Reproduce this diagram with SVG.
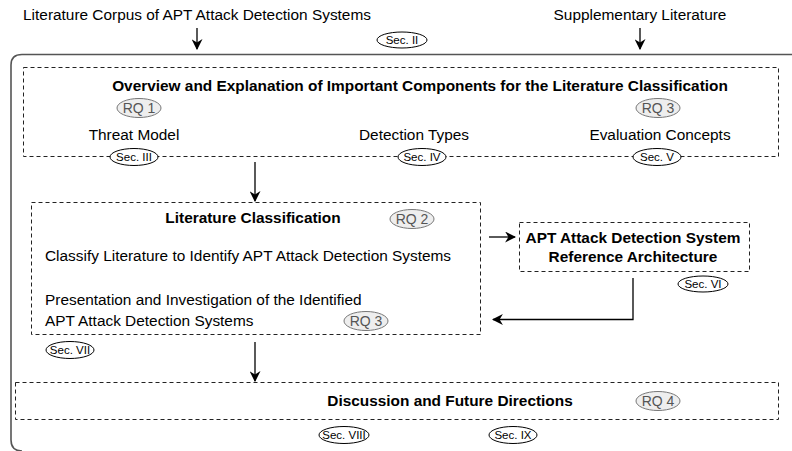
<svg xmlns="http://www.w3.org/2000/svg" width="792" height="451" viewBox="0 0 792 451">
<defs>
<marker id="ah" viewBox="0 0 10 10" refX="9" refY="5" markerWidth="11" markerHeight="11" markerUnits="userSpaceOnUse" orient="auto">
<path d="M0,0 L10,5 L0,10 L3,5 Z" fill="#000"/>
</marker>
</defs>
<style>
text{font-family:"Liberation Sans",Arial,sans-serif;fill:#000}
.t{font-size:15.4px}
.b{font-size:15.4px;font-weight:bold}
.s{font-size:11.5px}
.rq{font-size:14px;fill:#555}
.box{fill:none;stroke:#222;stroke-width:1;stroke-dasharray:4,3}
.sec{fill:#fff;stroke:#000;stroke-width:1}
.rqe{fill:#eee;stroke:#777;stroke-width:1}
.c{fill:none;stroke:#000;stroke-width:1.3}
</style>
<rect width="792" height="451" fill="#fff"/>
<path d="M792,54.5 H22 Q11,54.5 11,65 V440 Q11,451 22,451" fill="none" stroke="#555" stroke-width="1.6"/>
<g id="connectors">
<line class="c" x1="197" y1="28" x2="197" y2="49" marker-end="url(#ah)"/>
<line class="c" x1="640" y1="28" x2="640" y2="49" marker-end="url(#ah)"/>
<line class="c" x1="255" y1="162" x2="255" y2="201" marker-end="url(#ah)"/>
<line class="c" x1="489" y1="237" x2="515" y2="237" marker-end="url(#ah)"/>
<path class="c" d="M633,278 V319.5 H493" marker-end="url(#ah)"/>
<line class="c" x1="255" y1="342" x2="255" y2="381" marker-end="url(#ah)"/>
</g>
<g id="sources">
<text class="t" x="197" y="20" text-anchor="middle">Literature Corpus of APT Attack Detection Systems</text>
<text class="t" x="640" y="20" text-anchor="middle">Supplementary Literature</text>
<g id="sec2"><ellipse class="sec" cx="402" cy="40" rx="25" ry="8"/><text class="s" x="402" y="44" text-anchor="middle">Sec. II</text></g>
</g>
<g id="overview">
<rect class="box" x="23.5" y="67.5" width="755" height="89"/>
<text class="b" x="420" y="91" text-anchor="middle">Overview and Explanation of Important Components for the Literature Classification</text>
<ellipse class="rqe" cx="139" cy="108" rx="22" ry="9.5"/><text class="rq" x="139" y="113" text-anchor="middle">RQ 1</text>
<ellipse class="rqe" cx="658" cy="108" rx="22" ry="9.5"/><text class="rq" x="658" y="113" text-anchor="middle">RQ 3</text>
<text class="t" x="134" y="140" text-anchor="middle">Threat Model</text>
<text class="t" x="414" y="140" text-anchor="middle">Detection Types</text>
<text class="t" x="660" y="140" text-anchor="middle">Evaluation Concepts</text>
<ellipse class="sec" cx="134" cy="157" rx="24" ry="8.5"/><text class="s" x="134" y="161" text-anchor="middle">Sec. III</text>
<ellipse class="sec" cx="422" cy="157" rx="24" ry="8.5"/><text class="s" x="422" y="161" text-anchor="middle">Sec. IV</text>
<ellipse class="sec" cx="657" cy="157" rx="24" ry="8.5"/><text class="s" x="657" y="161" text-anchor="middle">Sec. V</text>
</g>
<g id="classification">
<rect class="box" x="31.5" y="202.5" width="449" height="132"/>
<text class="b" x="253" y="223" text-anchor="middle">Literature Classification</text>
<ellipse class="rqe" cx="412" cy="219" rx="22" ry="9.5"/><text class="rq" x="412" y="224" text-anchor="middle">RQ 2</text>
<text class="t" x="45" y="261">Classify Literature to Identify APT Attack Detection Systems</text>
<text class="t" x="45" y="305">Presentation and Investigation of the Identified</text>
<text class="t" x="45" y="326">APT Attack Detection Systems</text>
<ellipse class="rqe" cx="366" cy="321" rx="22" ry="9.5"/><text class="rq" x="366" y="326" text-anchor="middle">RQ 3</text>
<ellipse class="sec" cx="70" cy="350" rx="24" ry="8.5"/><text class="s" x="70" y="354" text-anchor="middle">Sec. VII</text>
</g>
<g id="architecture">
<rect class="box" x="519.5" y="222.5" width="230" height="49"/>
<text class="b" x="633" y="243" text-anchor="middle">APT Attack Detection System</text>
<text class="b" x="633" y="262" text-anchor="middle">Reference Architecture</text>
<ellipse class="sec" cx="703" cy="284" rx="25" ry="8"/><text class="s" x="703" y="288" text-anchor="middle">Sec. VI</text>
</g>
<g id="discussion">
<rect class="box" x="15.5" y="382.5" width="763" height="37"/>
<text class="b" x="450" y="406" text-anchor="middle">Discussion and Future Directions</text>
<ellipse class="rqe" cx="658" cy="401" rx="22" ry="9.5"/><text class="rq" x="658" y="406" text-anchor="middle">RQ 4</text>
<ellipse class="sec" cx="344" cy="435" rx="25" ry="8.5"/><text class="s" x="344" y="439" text-anchor="middle">Sec. VIII</text>
<ellipse class="sec" cx="513" cy="435" rx="24" ry="8.5"/><text class="s" x="513" y="439" text-anchor="middle">Sec. IX</text>
</g>
</svg>
